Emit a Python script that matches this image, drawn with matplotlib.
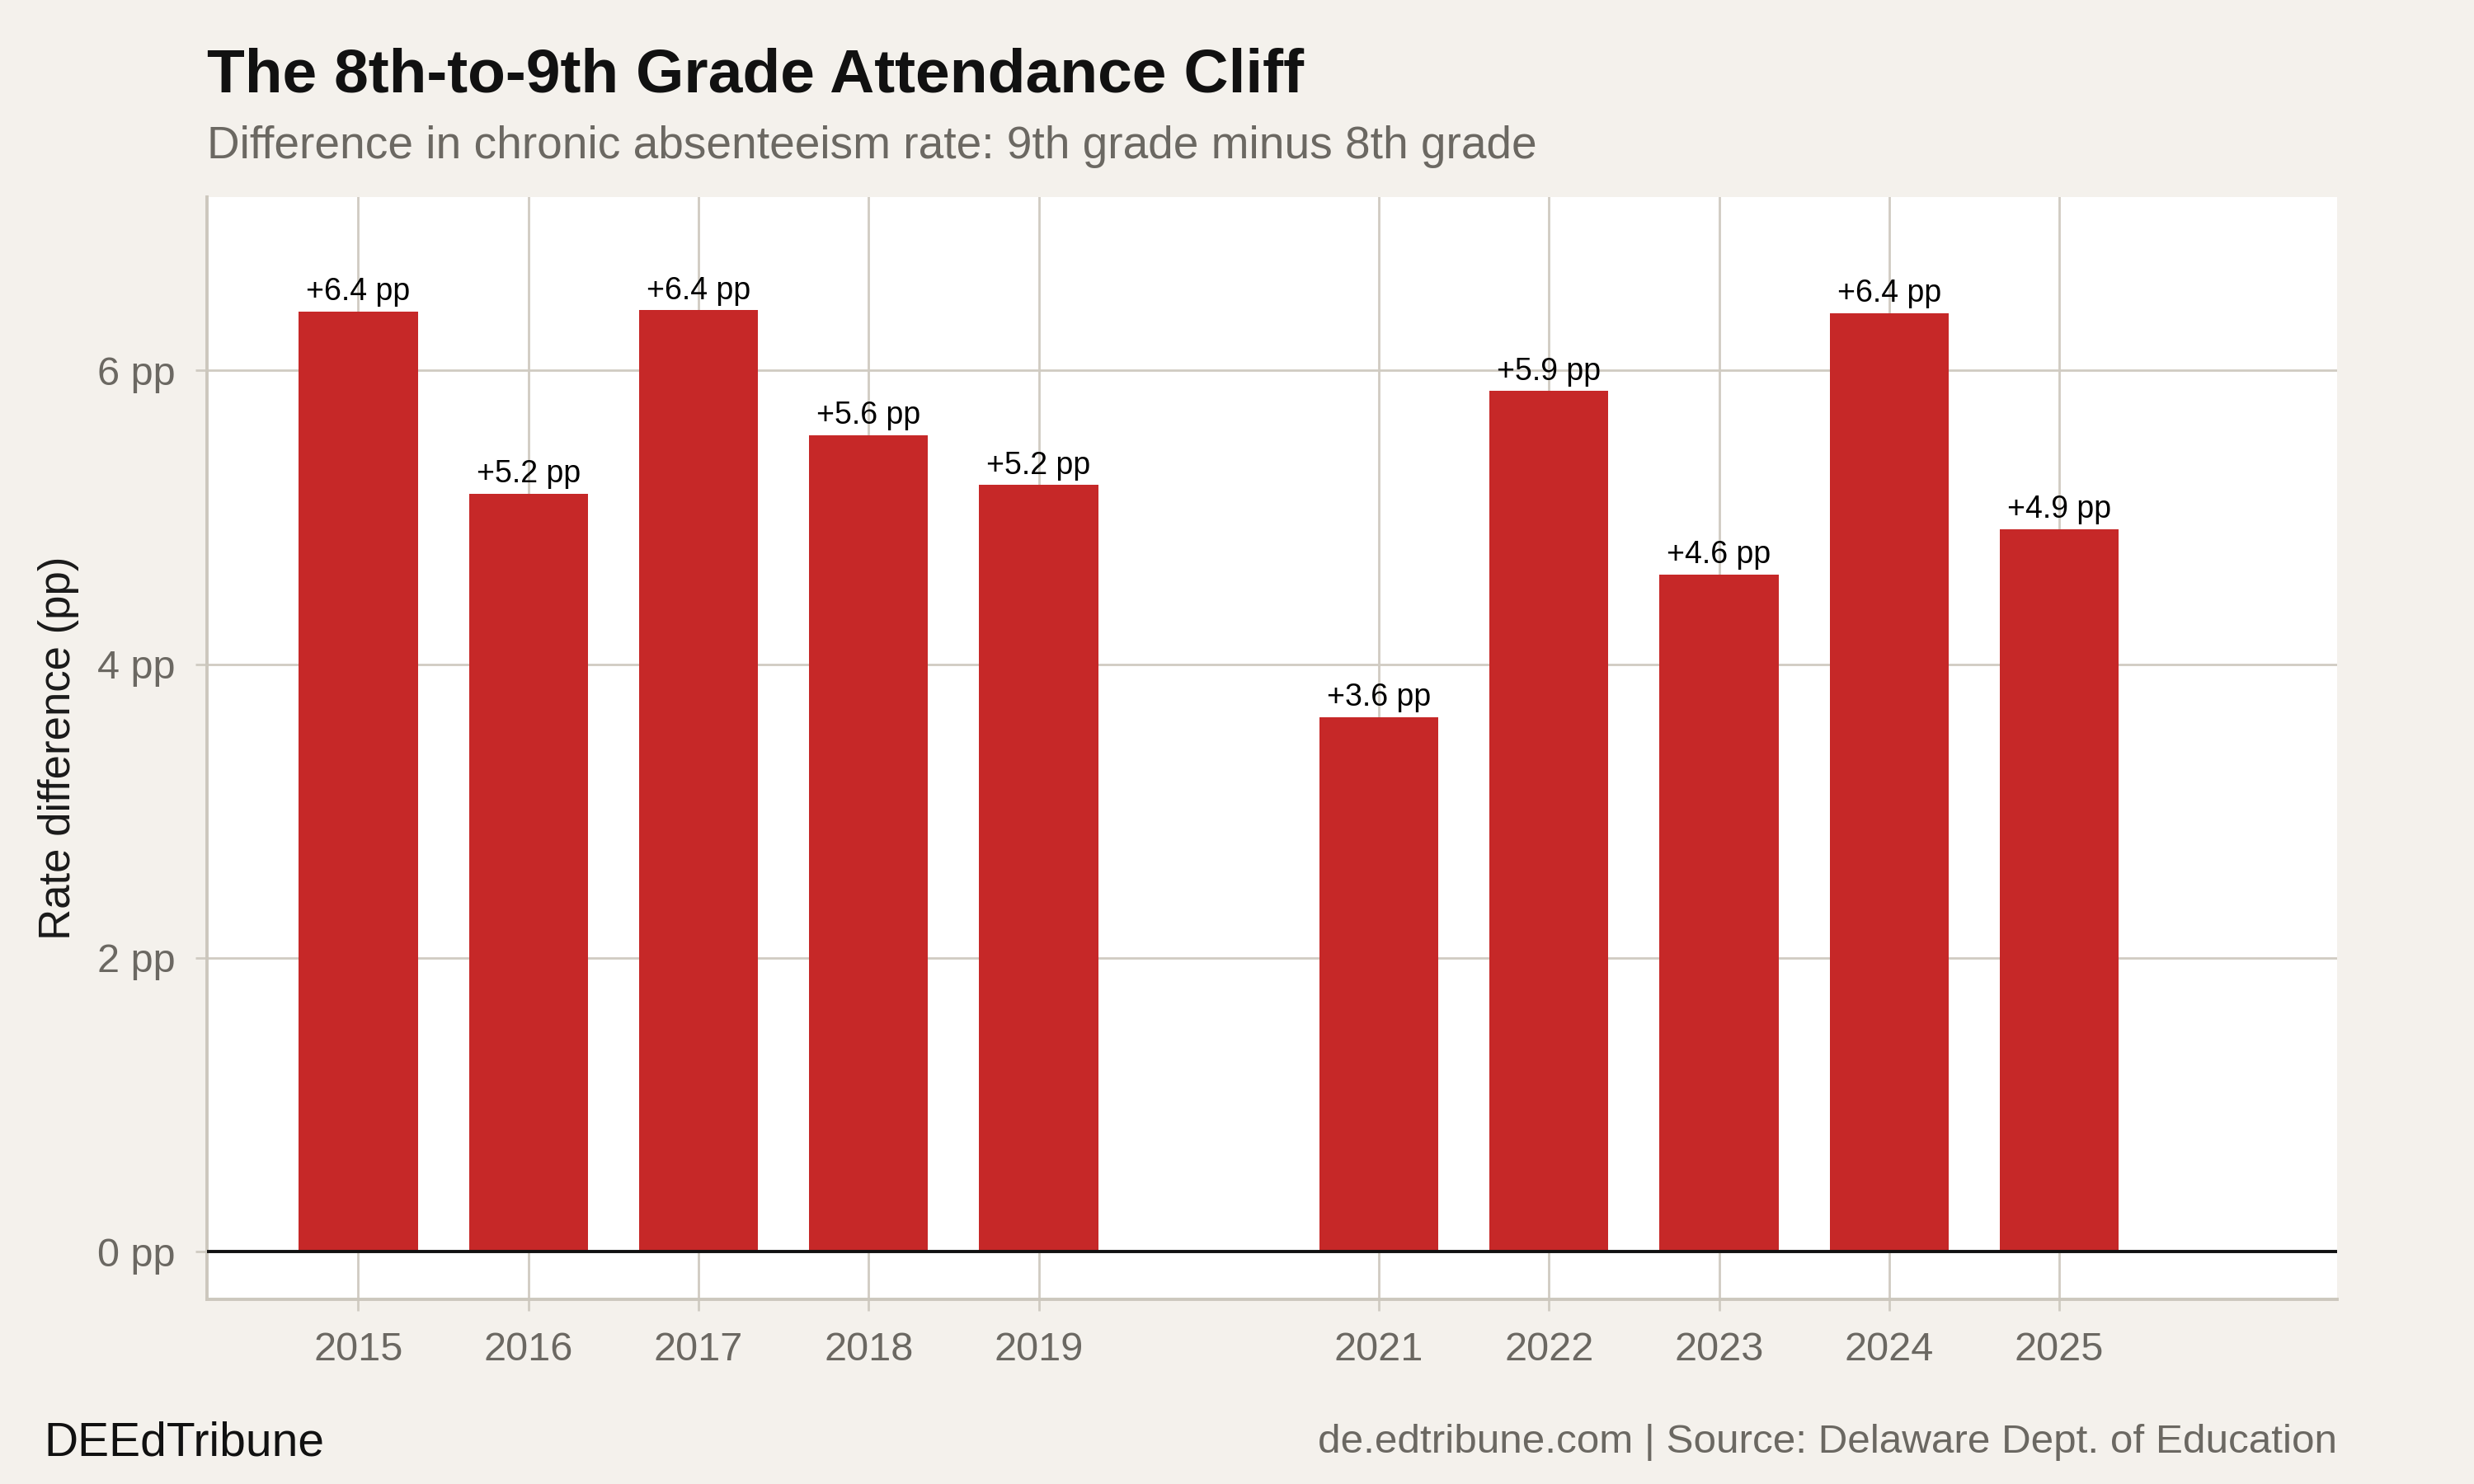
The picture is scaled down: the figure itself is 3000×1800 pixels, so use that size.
"""
8th-to-9th grade attendance cliff bar chart
"""

import matplotlib
matplotlib.use("Agg")
import matplotlib.pyplot as plt

years = [2015, 2016, 2017, 2018, 2019, 2021, 2022, 2023, 2024, 2025]
diff_pp = [6.40, 5.16, 6.41, 5.56, 5.22, 3.64, 5.86, 4.61, 6.39, 4.92]
y_ticks = [0, 2, 4, 6]

title = "The 8th-to-9th Grade Attendance Cliff"
subtitle = "Difference in chronic absenteeism rate: 9th grade minus 8th grade"
y_label = "Rate difference (pp)"
brand = "DEEdTribune"
source = "de.edtribune.com | Source: Delaware Dept. of Education"

bg = "#f4f1ec"
bar_col = "#c62828"
grid_col = "#d0cbc2"
spine_col = "#ccc7bd"
gray_txt = "#6b6862"

plt.rcParams['font.family'] = ['Liberation Sans', 'DejaVu Sans']

fig = plt.figure(figsize=(15, 9), dpi=200, facecolor=bg)
ax = fig.add_axes([0.0837, 0.1244, 0.9447 - 0.0837, 0.8672 - 0.1244])
ax.set_facecolor("white")

bars = ax.bar(years, diff_pp, width=0.7, color=bar_col, zorder=3)
for x, v in zip(years, diff_pp):
    ax.annotate("+%.1f pp" % v, (x, v), xytext=(0, 2), textcoords="offset points",
                ha="center", va="bottom", fontsize=13.5, color="black", zorder=4)

ax.axhline(0, color="#111111", lw=1.4, zorder=4)

ax.set_xlim(2014.111, 2026.634)
ax.set_ylim(-0.325, 7.18)
ax.set_xticks(years)
ax.set_xticklabels([str(y) for y in years])
ax.set_yticks(y_ticks)
ax.set_yticklabels(["%d pp" % t for t in y_ticks])

ax.grid(True, color=grid_col, lw=1.0, zorder=0)
ax.set_axisbelow(True)
ax.tick_params(axis="both", length=5, width=1.0, color=grid_col, pad=9,
               labelsize=17.5, labelcolor=gray_txt)

for s in ["top", "right"]:
    ax.spines[s].set_visible(False)
for s in ["left", "bottom"]:
    ax.spines[s].set_color(spine_col)
    ax.spines[s].set_linewidth(1.4)

fig.text(71 / 3000, 0.496, y_label, rotation=90, ha="center", va="center",
         fontsize=19, color="#1a1a1a")

fig.text(0.0837, 0.9378, title, fontsize=27, fontweight="bold", color="#111111",
         ha="left", va="baseline")
fig.text(0.0837, 0.8933, subtitle, fontsize=19.8, color=gray_txt,
         ha="left", va="baseline")

fig.text(0.0177, 0.0189, brand, fontsize=20.5, color="#111111", ha="left", va="baseline")
fig.text(0.9447, 0.021, source, fontsize=17.8, color=gray_txt, ha="right", va="baseline")

fig.savefig("out.png", dpi=200, facecolor=bg)
